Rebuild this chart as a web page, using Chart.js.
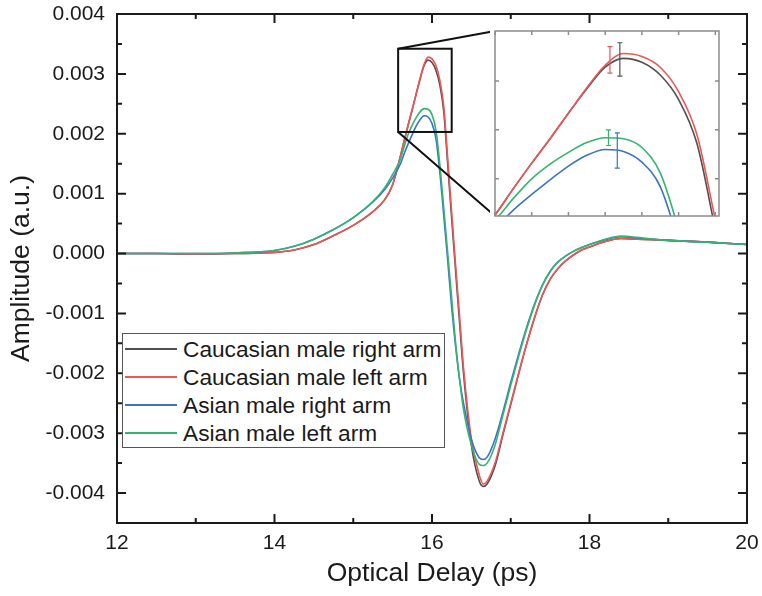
<!DOCTYPE html>
<html><head><meta charset="utf-8">
<script src="https://cdn.jsdelivr.net/npm/chart.js@4.4.1/dist/chart.umd.min.js"></script>
<style>
html,body{margin:0;padding:0;background:#fff;}
#wrap{position:relative;width:762px;height:596px;overflow:hidden;background:#fff;}
#main{position:absolute;left:0;top:0;}
#inset{position:absolute;left:490px;top:26px;}
#legend{position:absolute;left:122px;top:333px;width:323px;height:115px;border:1px solid #555;background:#fff;box-sizing:border-box;font-family:'Liberation Sans',Arial,sans-serif;font-size:22.7px;color:#1a1a1a;}
.row{position:absolute;left:0;height:28px;display:flex;align-items:center;white-space:nowrap;}
.sw{width:52px;height:0;border-top:2px solid;margin-left:2px;margin-right:6px;}
</style></head><body>
<div id="wrap">
<canvas id="main" width="762" height="596"></canvas>
<canvas id="inset" width="234" height="195"></canvas>
<div id="legend"></div>
</div>
<script>
// ---------- data ----------
const seriesLabels = ['Caucasian male right arm', 'Caucasian male left arm', 'Asian male right arm', 'Asian male left arm'];
const seriesColors = ['#505050', '#f05555', '#3d72c6', '#35b470'];

const opticalDelay = [12, 12.5, 13, 13.5, 14, 14.25, 14.5, 14.75, 15, 15.25, 15.4, 15.5, 15.6, 15.65, 15.7, 15.75, 15.8, 15.85, 15.9, 15.95, 16, 16.05, 16.1, 16.15, 16.2, 16.25, 16.3, 16.35, 16.4, 16.5, 16.6, 16.65, 16.7, 16.8, 16.9, 17, 17.1, 17.2, 17.3, 17.4, 17.5, 17.6, 17.7, 17.8, 17.9, 18, 18.2, 18.4, 18.6, 18.8, 19, 19.5, 20];

const caucasianRight = [0, 0, -0.00001, 0, 0.00002, 0.00006, 0.00015, 0.0003, 0.00047, 0.0007, 0.0009, 0.00115, 0.00163, 0.0019, 0.00216, 0.00241, 0.00267, 0.00292, 0.00314, 0.00323, 0.00319, 0.00306, 0.00281, 0.00236, 0.00148, 0.00058, -0.0003, -0.00115, -0.002, -0.0032, -0.0038, -0.00389, -0.00385, -0.00355, -0.00303, -0.00252, -0.00201, -0.00152, -0.00108, -0.0007, -0.00043, -0.00025, -0.00012, -0.00002, 0.00006, 0.00011, 0.0002, 0.00025, 0.00024, 0.00023, 0.00022, 0.00019, 0.00015];
const caucasianLeft  = [0, 0, -0.00001, 0, 0.00002, 0.00006, 0.00015, 0.0003, 0.00047, 0.0007, 0.0009, 0.00115, 0.00163, 0.0019, 0.00216, 0.00241, 0.00267, 0.00293, 0.00316, 0.00328, 0.00325, 0.00314, 0.00289, 0.00245, 0.00158, 0.00068, -0.0002, -0.00105, -0.0019, -0.0031, -0.0037, -0.00385, -0.0038, -0.0035, -0.003, -0.0025, -0.002, -0.00152, -0.00108, -0.0007, -0.00043, -0.00025, -0.00012, -0.00002, 0.00006, 0.00011, 0.0002, 0.00025, 0.00024, 0.00023, 0.00022, 0.00019, 0.00015];
const asianRight     = [0, 0, 0, 0.00001, 0.00005, 0.00012, 0.00024, 0.0004, 0.0006, 0.00086, 0.00107, 0.00126, 0.0015, 0.00168, 0.00184, 0.00199, 0.00213, 0.00224, 0.0023, 0.00228, 0.00217, 0.00192, 0.00135, 0.00062, -0.00012, -0.0009, -0.00155, -0.0021, -0.0025, -0.0031, -0.00341, -0.00344, -0.0034, -0.0031, -0.00265, -0.00215, -0.00168, -0.00124, -0.00085, -0.00053, -0.0003, -0.00014, -0.00004, 0.00004, 0.0001, 0.00015, 0.00023, 0.00028, 0.00026, 0.00024, 0.00022, 0.00019, 0.00015];
const asianLeft      = [0, 0, 0, 0.00001, 0.00005, 0.00012, 0.00024, 0.0004, 0.0006, 0.00087, 0.0011, 0.00132, 0.00158, 0.0018, 0.002, 0.00215, 0.00227, 0.00237, 0.00242, 0.00241, 0.00232, 0.00206, 0.00148, 0.00075, 0, -0.00075, -0.0015, -0.0021, -0.0026, -0.0032, -0.00352, -0.00354, -0.0035, -0.0032, -0.0027, -0.0022, -0.00172, -0.00127, -0.00087, -0.00054, -0.0003, -0.00014, -0.00004, 0.00004, 0.0001, 0.00015, 0.00024, 0.00029, 0.00027, 0.00024, 0.00022, 0.00019, 0.00015];

// error bars shown in the inset (x, centre, half-width) per series
const errorX      = [15.94, 15.913, 15.933, 15.909];
const errorCentre = [0.00322, 0.003215, 0.00229, 0.00242];
const errorHalf   = [0.00017, 0.000135, 0.00018, 0.00008];

// axis ticks
const xMajorTicks = [12, 14, 16, 18, 20];
const xMinorTicks = [13, 15, 17, 19];
const yMajorTicks = [-0.004, -0.003, -0.002, -0.001, 0, 0.001, 0.002, 0.003, 0.004];
const yMinorTicks = [-0.0035, -0.0025, -0.0015, -0.0005, 0.0005, 0.0015, 0.0025, 0.0035];
const xRange = [12, 20];
const yRange = [-0.0045, 0.004];

// zoom box in main plot and the inset ranges
const zoomBoxX = [15.57, 16.25];
const zoomBoxY = [0.00203, 0.00342];
const insetXRange = [15.6, 16.21];
const insetYRange = [0.00162, 0.00351];
const insetXTicks = [15.6, 15.7, 15.8, 15.9, 16.0, 16.1, 16.2];
const insetYTicks = [0.002, 0.0025, 0.003];

// ---------- build ----------
const allSeries = [caucasianRight, caucasianLeft, asianRight, asianLeft];
const FONT = "'Liberation Sans', Arial, Helvetica, sans-serif";
const TXT = '#1a1a1a';

function makeDatasets(width) {
  return allSeries.map((vals, i) => ({
    label: seriesLabels[i],
    data: opticalDelay.map((x, k) => ({x: x, y: vals[k]})),
    borderColor: seriesColors[i],
    backgroundColor: seriesColors[i],
    borderWidth: width,
    pointRadius: 0,
    fill: false,
    cubicInterpolationMode: 'monotone',
    order: 3 - i
  }));
}

const INSET_LEFT = 490, INSET_TOP = 26;

const insetDecor = {
  id: 'insetDecor',
  beforeDraw(chart) {
    const {ctx, width, height} = chart;
    ctx.save(); ctx.fillStyle = '#fff'; ctx.fillRect(0, 0, width, height); ctx.restore();
  },
  afterDatasetsDraw(chart) {
    const {ctx, chartArea: a, scales: {x, y}} = chart;
    ctx.save();
    ctx.lineWidth = 1.2;
    errorX.forEach((ex, i) => {
      const px = x.getPixelForValue(ex);
      const y1 = y.getPixelForValue(errorCentre[i] - errorHalf[i]);
      const y2 = y.getPixelForValue(errorCentre[i] + errorHalf[i]);
      ctx.strokeStyle = seriesColors[i];
      ctx.beginPath();
      ctx.moveTo(px, y1); ctx.lineTo(px, y2);
      ctx.moveTo(px - 2.5, y1); ctx.lineTo(px + 2.5, y1);
      ctx.moveTo(px - 2.5, y2); ctx.lineTo(px + 2.5, y2);
      ctx.stroke();
    });
    ctx.strokeStyle = '#8c8c8c';
    ctx.lineWidth = 1.5;
    ctx.strokeRect(a.left, a.top, a.right - a.left, a.bottom - a.top);
    ctx.beginPath();
    insetXTicks.forEach(v => {
      const px = x.getPixelForValue(v);
      ctx.moveTo(px, a.bottom); ctx.lineTo(px, a.bottom - 4);
      ctx.moveTo(px, a.top); ctx.lineTo(px, a.top + 4);
    });
    insetYTicks.forEach(v => {
      const py = y.getPixelForValue(v);
      ctx.moveTo(a.left, py); ctx.lineTo(a.left + 4, py);
      ctx.moveTo(a.right, py); ctx.lineTo(a.right - 4, py);
    });
    ctx.stroke();
    ctx.restore();
  }
};

const insetChart = new Chart(document.getElementById('inset'), {
  type: 'line',
  data: {datasets: makeDatasets(1.6)},
  options: {
    responsive: false, animation: false, devicePixelRatio: 1,
    layout: {padding: 5},
    plugins: {legend: {display: false}, tooltip: {enabled: false}},
    scales: {
      x: {type: 'linear', min: insetXRange[0], max: insetXRange[1], display: false},
      y: {type: 'linear', min: insetYRange[0], max: insetYRange[1], display: false}
    }
  },
  plugins: [insetDecor]
});

const mainDecor = {
  id: 'mainDecor',
  afterDatasetsDraw(chart) {
    const {ctx, chartArea: a, scales: {x, y}} = chart;
    ctx.save();
    ctx.strokeStyle = TXT;
    ctx.lineWidth = 2;
    ctx.strokeRect(a.left, a.top, a.right - a.left, a.bottom - a.top);
    ctx.beginPath();
    const xt = (list, len) => list.forEach(v => {
      const px = x.getPixelForValue(v);
      ctx.moveTo(px, a.bottom); ctx.lineTo(px, a.bottom - len);
      ctx.moveTo(px, a.top); ctx.lineTo(px, a.top + len);
    });
    const yt = (list, len) => list.forEach(v => {
      const py = y.getPixelForValue(v);
      ctx.moveTo(a.left, py); ctx.lineTo(a.left + len, py);
      ctx.moveTo(a.right, py); ctx.lineTo(a.right - len, py);
    });
    xt(xMajorTicks, 9); xt(xMinorTicks, 5);
    yt(yMajorTicks, 9); yt(yMinorTicks, 5);
    ctx.stroke();
    const bx1 = x.getPixelForValue(zoomBoxX[0]), bx2 = x.getPixelForValue(zoomBoxX[1]);
    const by1 = y.getPixelForValue(zoomBoxY[1]), by2 = y.getPixelForValue(zoomBoxY[0]);
    ctx.strokeStyle = '#111';
    ctx.lineWidth = 2;
    ctx.strokeRect(bx1, by1, bx2 - bx1, by2 - by1);
    const ia = insetChart.chartArea;
    ctx.beginPath();
    ctx.moveTo(bx1, by1); ctx.lineTo(INSET_LEFT + ia.left, INSET_TOP + ia.top);
    ctx.moveTo(bx1, by2); ctx.lineTo(INSET_LEFT + ia.left, INSET_TOP + ia.bottom);
    ctx.stroke();
    ctx.restore();
  }
};

const mainChart = new Chart(document.getElementById('main'), {
  type: 'line',
  data: {datasets: makeDatasets(1.6)},
  options: {
    responsive: false, animation: false, devicePixelRatio: 1,
    layout: {padding: {top: 14, right: 15, left: 0, bottom: 0}},
    plugins: {legend: {display: false}, tooltip: {enabled: false}},
    scales: {
      x: {
        type: 'linear', min: xRange[0], max: xRange[1],
        grid: {display: false, drawTicks: false}, border: {display: false},
        afterBuildTicks: s => { s.ticks = xMajorTicks.map(v => ({value: v})); },
        afterFit: s => { s.height = 73; s.paddingLeft = 0; s.paddingRight = 0; },
        ticks: {padding: 8, autoSkip: false, maxRotation: 0, color: TXT, font: {family: FONT, size: 21}, callback: v => String(v)},
        title: {display: true, text: 'Optical Delay (ps)', color: TXT, font: {family: FONT, size: 26.5}, padding: {top: 0, bottom: 6}}
      },
      y: {
        type: 'linear', min: yRange[0], max: yRange[1],
        grid: {display: false, drawTicks: false}, border: {display: false},
        afterBuildTicks: s => { s.ticks = yMajorTicks.map(v => ({value: v})); },
        afterFit: s => { s.width = 117; s.paddingTop = 0; s.paddingBottom = 0; },
        ticks: {padding: 12, autoSkip: false, color: TXT, font: {family: FONT, size: 21}, callback: v => Number(v).toFixed(3)},
        title: {display: true, text: 'Amplitude (a.u.)', color: TXT, font: {family: FONT, size: 26.5}, padding: {top: 6, bottom: 0}}
      }
    }
  },
  plugins: [mainDecor]
});

const legendEl = document.getElementById('legend');
mainChart.data.datasets.forEach((ds, i) => {
  const row = document.createElement('div');
  row.className = 'row';
  row.style.top = (1 + i * 28) + 'px';
  const sw = document.createElement('span');
  sw.className = 'sw';
  sw.style.borderTopColor = ds.borderColor;
  const t = document.createElement('span');
  t.textContent = ds.label;
  row.appendChild(sw); row.appendChild(t);
  legendEl.appendChild(row);
});
</script>
</body></html>
